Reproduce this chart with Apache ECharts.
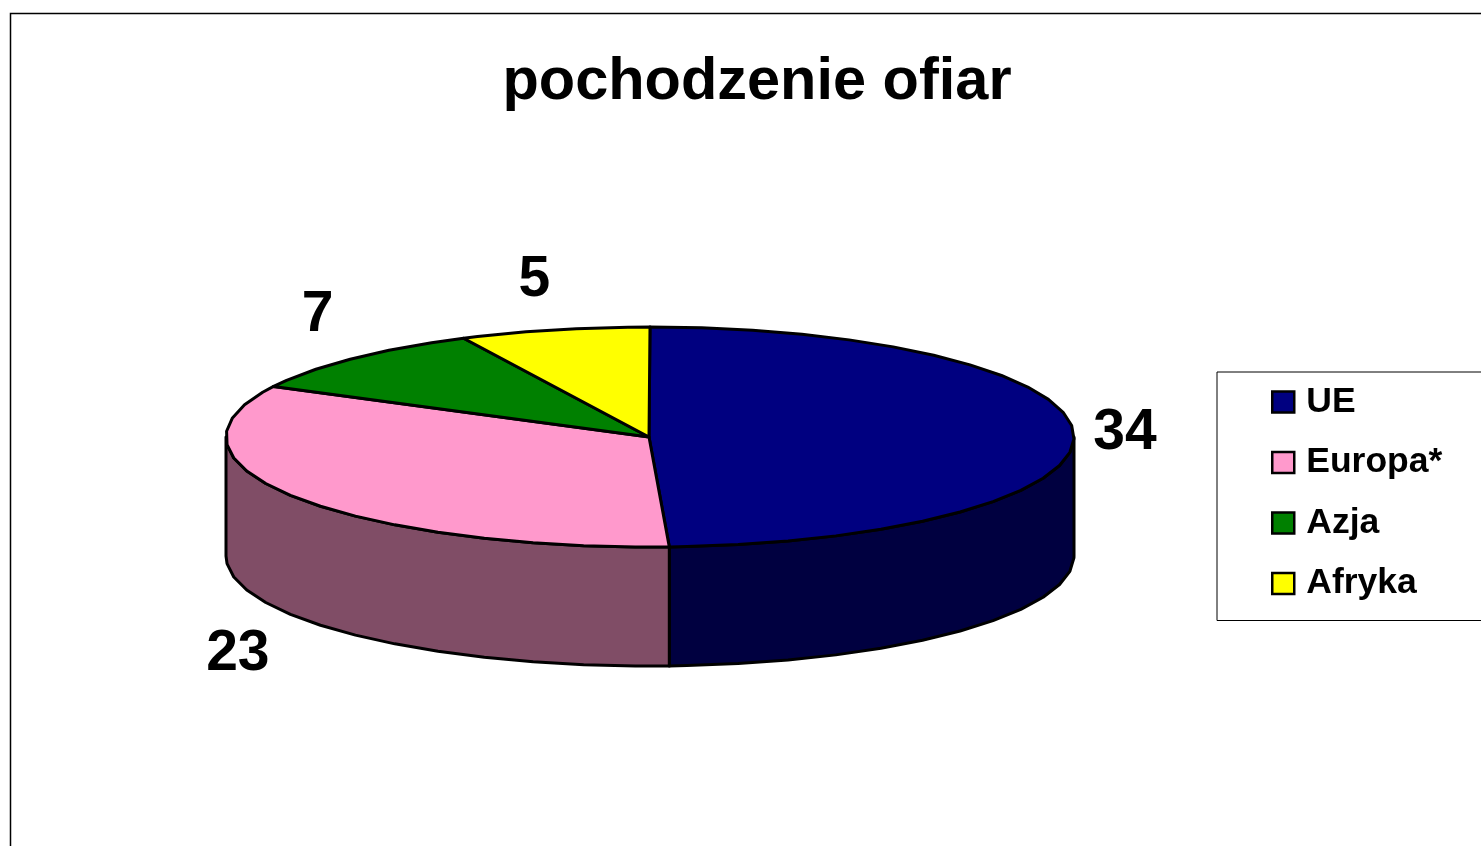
<!DOCTYPE html>
<html><head><meta charset="utf-8">
<style>html,body{margin:0;padding:0;background:#fff;overflow:hidden}#c{width:1481px;height:846px}</style>
<script src="https://cdn.jsdelivr.net/npm/echarts@6/dist/echarts.min.js"></script>
</head><body><div id="c"></div>
<script>
const categories = ['UE', 'Europa*', 'Azja', 'Afryka'];
const values = [34, 23, 7, 5];
const topColors = ['#000080', '#FF99CC', '#008000', '#FFFF00'];
const wallColors = ['#000040', '#804D66', '#004000', '#808000'];
const labelOffsets = [[51, -1], [-55, 158], [-36, -43], [-20, -50]];

const FONT = '"Liberation Sans", Arial, sans-serif';
const cx = 650, cy = 437, rx = 424, ry = 110, depth = 119, stepDeg = 7;
const total = values.reduce((a, b) => a + b, 0);
const pt = (deg, dy) => {
  const t = deg * Math.PI / 180;
  return [cx + rx * Math.sin(t), cy - ry * Math.cos(t) + (dy || 0)];
};
const arc = (a, b, dy) => {
  const out = [];
  const first = Math.ceil(a / stepDeg) * stepDeg;
  out.push(pt(a, dy));
  for (let d = first; d < b; d += stepDeg) if (d > a) out.push(pt(d, dy));
  out.push(pt(b, dy));
  return out;
};
const apex = [649, 437];
const stroke = { stroke: '#000', lineWidth: 3, lineJoin: 'round' };

function renderSlice(i) {
  return function () {
    const before = values.slice(0, i).reduce((a, b) => a + b, 0);
    const a0 = before / total * 360, a1 = (before + values[i]) / total * 360;
    const children = [];
    const w0 = Math.max(a0, 90), w1 = Math.min(a1, 270);
    if (w1 > w0) {
      const wallPts = arc(w0, w1, 0).concat(arc(w0, w1, depth).reverse());
      children.push({ type: 'polygon', shape: { points: wallPts },
        style: Object.assign({ fill: wallColors[i] }, stroke) });
    }
    children.push({ type: 'polygon', shape: { points: [apex].concat(arc(a0, a1, 0)) },
      style: Object.assign({ fill: topColors[i] }, stroke) });
    const m = pt((a0 + a1) / 2, 0);
    children.push({ type: 'text', x: m[0] + labelOffsets[i][0], y: m[1] + labelOffsets[i][1],
      style: { text: String(values[i]), fill: '#000', font: 'bold 57px ' + FONT, align: 'center', verticalAlign: 'middle' } });
    return { type: 'group', children };
  };
}

const chart = echarts.init(document.getElementById('c'));
chart.setOption({
  animation: false,
  backgroundColor: '#fff',
  title: { text: 'pochodzenie ofiar', left: 752, top: 48, textAlign: 'center',
    textStyle: { fontFamily: FONT, fontWeight: 'bold', fontSize: 59.5, color: '#000' } },
  legend: {
    orient: 'vertical', left: 1217, top: 372, padding: [10, 100, 17, 54],
    itemWidth: 22, itemHeight: 21, itemGap: 20.5, icon: 'rect', selectedMode: false,
    backgroundColor: '#fff', borderColor: '#000', borderWidth: 1,
    itemStyle: { borderColor: '#000', borderWidth: 2.5 },
    textStyle: { fontFamily: FONT, fontWeight: 'bold', fontSize: 35.5, color: '#000', padding: [0, 0, 0, 7], lineHeight: 40 },
    data: categories
  },
  graphic: [{ type: 'polyline', silent: true, shape: { points: [[10.5, 846], [10.5, 13.5], [1481, 13.5]] },
    style: { stroke: '#000', lineWidth: 1.5, fill: 'none' } }],
  series: categories.map((name, i) => ({
    type: 'custom', name, coordinateSystem: 'none', silent: true,
    itemStyle: { color: topColors[i] },
    renderItem: renderSlice(i),
    data: [values[i]]
  }))
});
</script></body></html>
